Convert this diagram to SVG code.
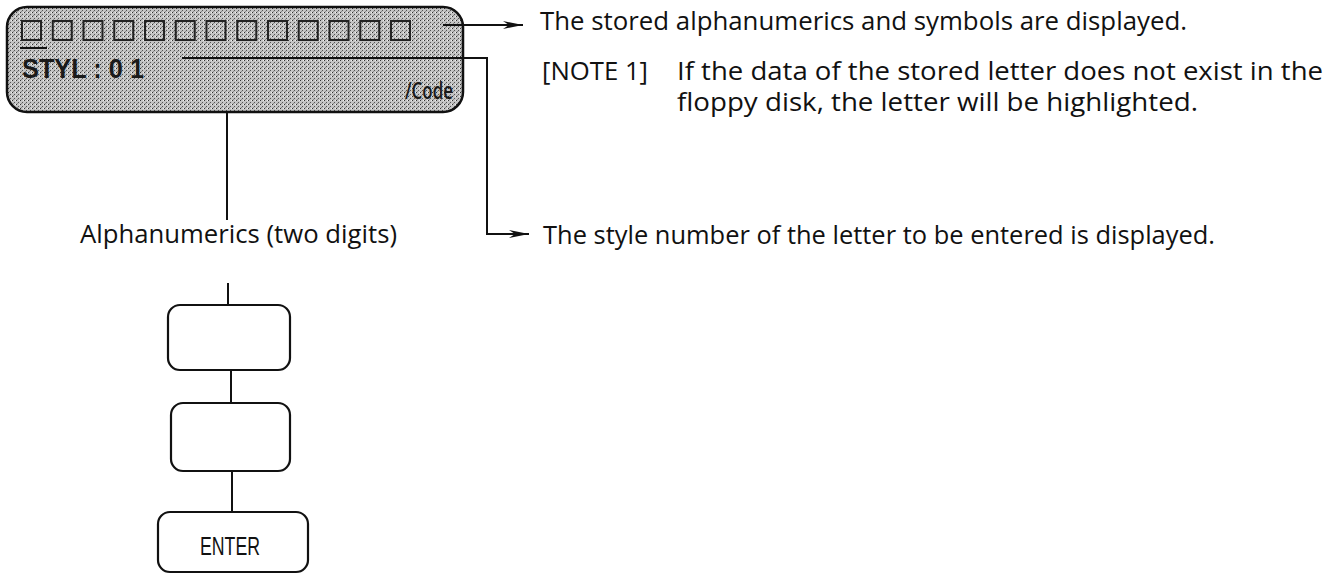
<svg xmlns="http://www.w3.org/2000/svg" width="1332" height="575" viewBox="0 0 1332 575">
<style>
.txt{font-family:"Open Sans","Liberation Sans",sans-serif;font-size:26px;fill:#111}
.lcd{font-family:"Liberation Sans",sans-serif;font-size:27px;font-weight:bold;fill:#1a1a1a}
.code{font-family:"Open Sans","Liberation Sans",sans-serif;font-size:24px;font-weight:600;fill:#1a1a1a}
.key{font-family:"Liberation Sans",sans-serif;font-size:25px;fill:#111}
.box{fill:#fff;stroke:#111;stroke-width:2.2}
.ln{fill:none;stroke:#111;stroke-width:2}
.sq{fill:none;stroke:#222;stroke-width:2}
</style>
<defs>
<pattern id="ht" width="4" height="4" patternUnits="userSpaceOnUse">
<rect width="4" height="4" fill="#c4c4c4"/>
<rect x="0" y="0" width="1" height="1" fill="#333"/>
<rect x="2" y="2" width="1" height="1" fill="#555"/>
<rect x="1" y="3" width="1" height="1" fill="#888"/>
<rect x="3" y="0" width="1" height="1" fill="#f0f0f0"/>
</pattern>
<marker id="arr" markerUnits="userSpaceOnUse" markerWidth="22" markerHeight="10" refX="20" refY="5" orient="auto">
<path d="M0,1 L20,5 L0,9 L6,5 Z" fill="#111"/>
</marker>
</defs>

<g id="panel">
<rect x="7" y="7" width="456" height="105" rx="20" ry="20" fill="url(#ht)" stroke="#111" stroke-width="2.5"/>
<g id="squares">
<rect class="sq" x="22" y="21" width="19" height="19"/>
<rect class="sq" x="52.75" y="21" width="19" height="19"/>
<rect class="sq" x="83.5" y="21" width="19" height="19"/>
<rect class="sq" x="114.25" y="21" width="19" height="19"/>
<rect class="sq" x="145" y="21" width="19" height="19"/>
<rect class="sq" x="175.75" y="21" width="19" height="19"/>
<rect class="sq" x="206.5" y="21" width="19" height="19"/>
<rect class="sq" x="237.25" y="21" width="19" height="19"/>
<rect class="sq" x="268" y="21" width="19" height="19"/>
<rect class="sq" x="298.75" y="21" width="19" height="19"/>
<rect class="sq" x="329.5" y="21" width="19" height="19"/>
<rect class="sq" x="360.25" y="21" width="19" height="19"/>
<rect class="sq" x="391" y="21" width="19" height="19"/>
</g>
<rect x="20" y="47" width="27" height="2" fill="#111"/>
<text class="lcd" x="22" y="78" textLength="122" lengthAdjust="spacingAndGlyphs" xml:space="preserve">STYL : 0 1</text>
<text class="code" x="405" y="99" textLength="48" lengthAdjust="spacingAndGlyphs">/Code</text>
</g>

<g id="connectors">
<line class="ln" x1="443" y1="25" x2="523" y2="25" marker-end="url(#arr)"/>
<polyline class="ln" points="182,58 487,58 487,234 529,234" marker-end="url(#arr)"/>
<line class="ln" x1="227" y1="112" x2="227" y2="220"/>
<line class="ln" x1="228" y1="283" x2="228" y2="305"/>
<line class="ln" x1="231" y1="370" x2="231" y2="403"/>
<line class="ln" x1="232" y1="471" x2="232" y2="512"/>
</g>

<g id="label-stored">
<text class="txt" x="540" y="30" textLength="647" lengthAdjust="spacingAndGlyphs">The stored alphanumerics and symbols are displayed.</text>
</g>
<g id="note1">
<text class="txt" x="542" y="80" textLength="106" lengthAdjust="spacingAndGlyphs">[NOTE 1]</text>
<text class="txt" x="677" y="80" textLength="646" lengthAdjust="spacingAndGlyphs">If the data of the stored letter does not exist in the</text>
<text class="txt" x="677" y="111" textLength="521" lengthAdjust="spacingAndGlyphs">floppy disk, the letter will be highlighted.</text>
</g>
<g id="label-style">
<text class="txt" x="543" y="244" textLength="672" lengthAdjust="spacingAndGlyphs">The style number of the letter to be entered is displayed.</text>
</g>
<g id="label-alpha">
<text class="txt" x="80" y="243" textLength="317" lengthAdjust="spacingAndGlyphs">Alphanumerics (two digits)</text>
</g>

<g id="key1">
<rect class="box" x="168" y="305" width="122" height="65" rx="12" ry="12"/>
</g>
<g id="key2">
<rect class="box" x="171" y="403" width="119" height="68" rx="12" ry="12"/>
</g>
<g id="key-enter">
<rect class="box" x="158" y="512" width="150" height="60" rx="12" ry="12"/>
<text class="key" x="200" y="555" textLength="60" lengthAdjust="spacingAndGlyphs">ENTER</text>
</g>
</svg>
